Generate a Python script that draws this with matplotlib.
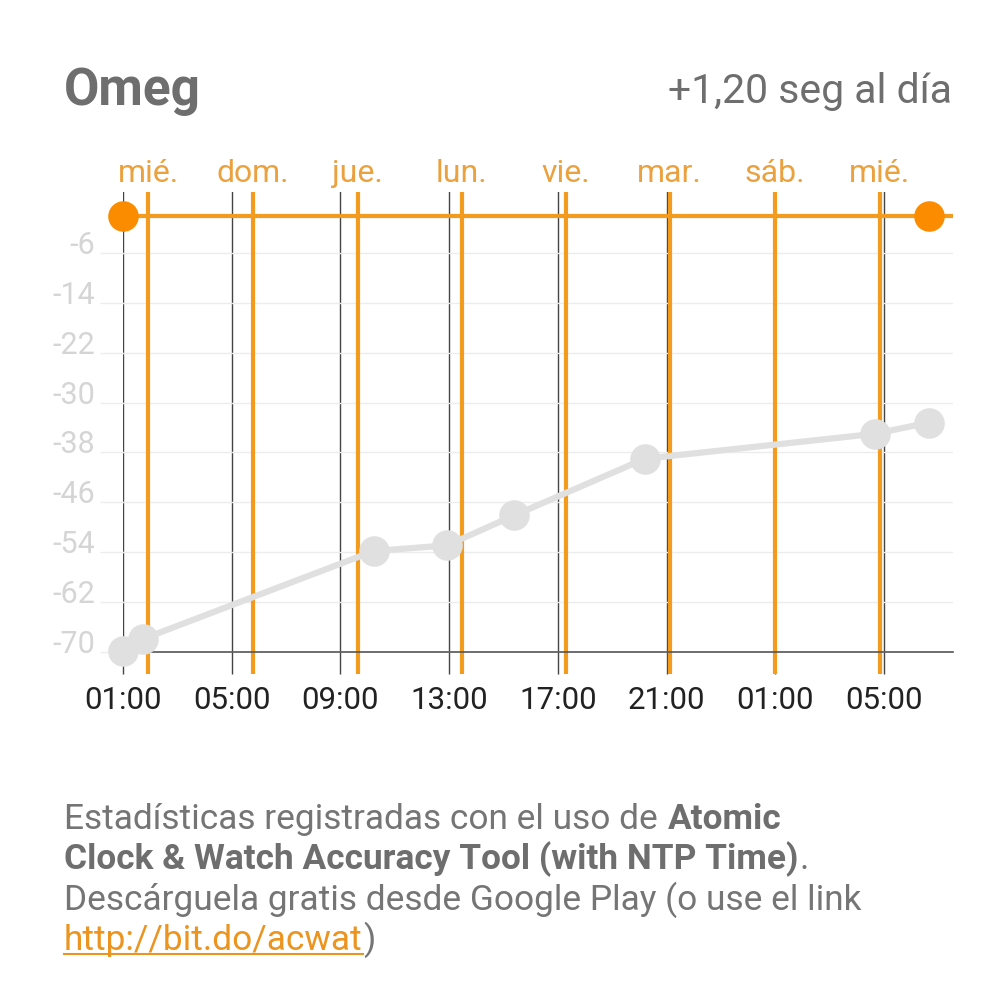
import matplotlib
matplotlib.use('Agg')
import matplotlib.pyplot as plt
from matplotlib.lines import Line2D

plt.rcParams['font.family'] = ['Roboto', 'DejaVu Sans']
plt.rcParams['axes.unicode_minus'] = False

# measurements: hours since midnight of the first day, offset in seconds
times = [1.0, 1.74, 10.23, 12.92, 15.39, 20.2, 28.67, 30.65]
offsets = [-69.8, -67.9, -53.8, -52.9, -48.1, -39.0, -35.0, -33.2]

hour_ticks = [1, 5, 9, 13, 17, 21, 25, 29]
hour_labels = ['01:00', '05:00', '09:00', '13:00', '17:00', '21:00', '01:00', '05:00']
day_pos = [1.93, 5.77, 9.64, 13.46, 17.30, 21.12, 24.98, 28.84]
day_labels = ['mié.', 'dom.', 'jue.', 'lun.', 'vie.', 'mar.', 'sáb.', 'mié.']
y_ticks = [-6, -14, -22, -30, -38, -46, -54, -62, -70]

title = 'Omeg'
rate = '+1,20 seg al día'

W, H = 996, 1004
ORANGE = '#f39b1f'
GREY_TXT = '#6e6e6e'

fig = plt.figure(figsize=(W / 100, H / 100), dpi=100)
ax = fig.add_axes([123 / W, 1 - 653 / H, 830 / W, 460 / H])
ax.set_xlim(1.0, 31.54)
ax.set_ylim(-70, 3.78)

# y axis: light grid, labels sitting on the grid lines
ax.set_yticks(y_ticks)
ax.yaxis.grid(True, color='#ececec', lw=1)
ax.tick_params(axis='y', length=16.5, width=1, color='#ececec', pad=3.6,
               labelsize=22, labelcolor='#d5d5d5')
for lbl in ax.get_yticklabels():
    lbl.set_verticalalignment('baseline')

# x axis: dark thin grid at the hour ticks
ax.set_xticks(hour_ticks, hour_labels)
ax.xaxis.grid(True, color='#444444', lw=1)
ax.tick_params(axis='x', length=16, width=1, color='#444444', pad=8,
               labelsize=22.5, labelcolor='#222222')
ax.set_axisbelow(True)

for s in ['top', 'left', 'right']:
    ax.spines[s].set_visible(False)
ax.spines['bottom'].set_color('#555555')
ax.spines['bottom'].set_linewidth(1.2)

# day markers
ax.vlines(day_pos, -73.53, 3.78, colors=ORANGE, lw=3, clip_on=False, zorder=2)
ax.axhline(0, color=ORANGE, lw=3, zorder=2)
ax.plot([times[0], times[-1]], [0, 0], 'o', ms=21, color='#fb8c00', zorder=4, clip_on=False)

ax.plot(times, offsets, '-o', color='#e0e0e0', lw=4.5, ms=21, zorder=3, clip_on=False)

ax2 = ax.twiny()
ax2.set_xlim(ax.get_xlim())
ax2.set_xticks(day_pos, day_labels)
ax2.tick_params(axis='x', length=0, pad=3.5, labelsize=23, labelcolor='#eba13e')
for s in ax2.spines.values():
    s.set_visible(False)

# header
fig.text(64 / W, 1 - 105 / H, title, fontsize=37, weight='bold', color=GREY_TXT, va='baseline')
fig.text(952 / W, 1 - 103 / H, rate, fontsize=29.5, color=GREY_TXT, ha='right', va='baseline')

# footer with mixed runs
FS = 25.4
renderer = fig.canvas.get_renderer()


def width(s, weight='normal'):
    t = fig.text(0, 0, s, fontsize=FS, weight=weight)
    w = t.get_window_extent(renderer).width
    t.remove()
    return w


space = width('n n') - width('nn')
footer = [
    [('Estadísticas registradas con el uso de', 'normal', '#757575', False, False),
     ('Atomic', 'bold', GREY_TXT, False, True)],
    [('Clock & Watch Accuracy Tool (with NTP Time)', 'bold', GREY_TXT, False, False),
     ('.', 'normal', '#757575', False, False)],
    [('Descárguela gratis desde Google Play (o use el link', 'normal', '#757575', False, False)],
    [('http://bit.do/acwat', 'normal', '#ec9420', True, False),
     (')', 'normal', '#757575', False, False)],
]
for i, line in enumerate(footer):
    y = 829 + 40.4 * i
    x = 64
    for text, weight, color, underline, gap in line:
        if gap:
            x += space
        t = fig.text(x / W, 1 - y / H, text, fontsize=FS, weight=weight, color=color, va='baseline')
        bb = t.get_window_extent(renderer)
        if underline:
            fig.add_artist(Line2D([x / W, (x + bb.width) / W], [1 - (y + 5) / H] * 2,
                                  color=color, lw=1.5))
        x += bb.width + 1

fig.savefig('out.png', dpi=100)
